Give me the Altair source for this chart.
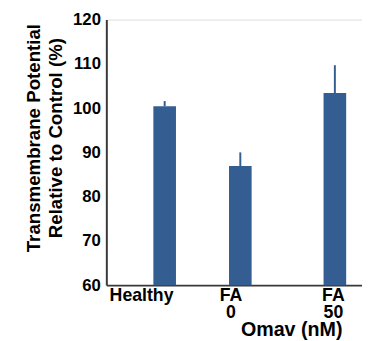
import altair as alt
import pandas as pd

groups = ["Healthy", "FA 0", "FA 50"]
slots = [0, 4, 9]
means = [100.4, 86.9, 103.4]
err_up = [1.2, 3.1, 6.3]

df = pd.DataFrame({
    "group": groups,
    "slot": slots,
    "mean": means,
    "top": [m + e for m, e in zip(means, err_up)],
})

label_expr = " : ".join(
    [f"datum.value == {s} ? {repr(g.split(' '))}" for s, g in zip(slots, groups)]
) + " : ''"

FONT = "Liberation Sans"
COLOR = "#345e92"

x_enc = alt.X(
    "slot:Q",
    scale=alt.Scale(domain=[-2.825, 10.175], nice=False, zero=False),
    axis=alt.Axis(
        values=slots,
        labelExpr=label_expr,
        labelOffset=alt.ExprRef("datum.value == 0 ? -24 : datum.value == 4 ? -10 : -2"),
        labelFont=FONT, labelFontSize=18, labelFontWeight="bold", labelColor="black",
        labelLineHeight=17, labelPadding=2, labelBaseline="top",
        tickSize=0, grid=False,
        domainColor="#3a3a3a", domainWidth=2,
        title="Omav (nM)", titleFont=FONT, titleFontSize=20, titleFontWeight="bold",
        titleColor="black", titleX=188, titleY=51, titleAlign="center",
        titleBaseline="alphabetic", titleAnchor="start",
    ),
)

y_enc = alt.Y(
    "mean:Q",
    scale=alt.Scale(domain=[60, 120], nice=False, zero=False),
    axis=alt.Axis(
        values=[60, 70, 80, 90, 100, 110, 120],
        labelFont=FONT, labelFontSize=17, labelFontWeight="bold", labelColor="black",
        labelPadding=6, tickSize=0, grid=False,
        domainColor="#3a3a3a", domainWidth=2,
        title=["Transmembrane Potential", "Relative to Control (%)"],
        titleFont=FONT, titleFontSize=19, titleFontWeight="bold", titleColor="black",
        titleLineHeight=22, titleAngle=270, titleX=-68, titleY=120,
        titleAlign="center", titleBaseline="alphabetic",
    ),
)

bars = alt.Chart(df).mark_bar(width=23, color=COLOR).encode(
    x=x_enc, y=y_enc, y2=alt.datum(60)
)
errs = alt.Chart(df).mark_rule(color=COLOR, strokeWidth=2).encode(
    x="slot:Q", y="mean:Q", y2="top:Q"
)

chart = alt.layer(bars, errs).properties(
    width=260, height=270,
    autosize=alt.AutoSizeParams(type="none"),
    padding={"left": 100, "top": 9, "right": 0, "bottom": 54},
).configure_view(stroke=None).configure(background="white")

chart.save("out.html", embed_options={"renderer": "svg", "actions": False})
